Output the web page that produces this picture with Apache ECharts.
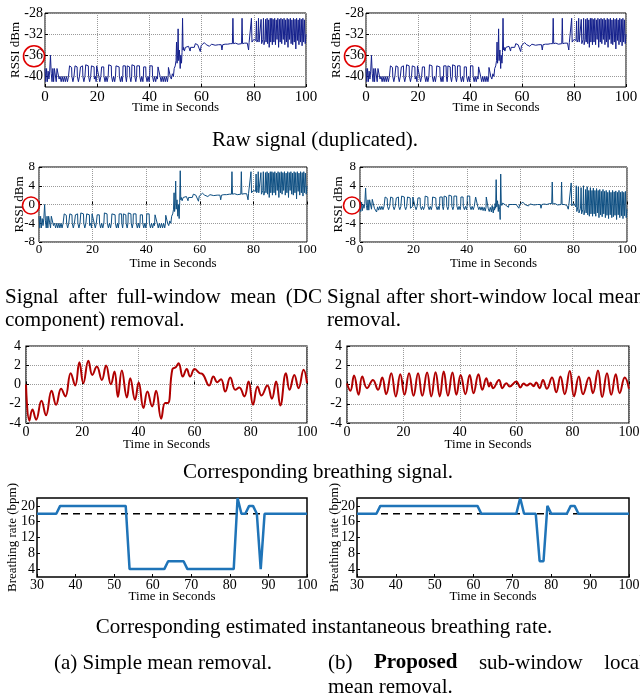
<!DOCTYPE html>
<html>
<head>
<meta charset="utf-8">
<script src="https://cdn.jsdelivr.net/npm/echarts@6/dist/echarts.min.js"></script>
<style>
  html, body { margin: 0; padding: 0; background: #fff; }
  #chart { width: 640px; height: 698px; }
</style>
</head>
<body>
<div id="chart"></div>
<script>
// ---- data ----
// raw RSSI, [time in s, dBm] (row 1, same trace in both panels)
const rawRssi = [
  [0,-38.5],[0.3,-41],[0.6,-38.5],[0.9,-41],[1.2,-39],[1.5,-40.5],[1.8,-39],[2.1,-36],[2.4,-39.5],[2.7,-41],[3,-38.5],[3.3,-41],[3.6,-38.5],[4.1,-38.5],[4.3,-41],[4.6,-38.5],[5.2,-38.5],[5.4,-40.5],[5.8,-40],[6.2,-41],[6.6,-40],[7,-41],[7.4,-40],[7.8,-41],[8.2,-40],[8.6,-41],[9,-40],
  [9.3,-40],[9.4,-38],[10.2,-38.3],[10.3,-40],[10.7,-41],[11.1,-40],
  [11.4,-40],[11.5,-38],[12.3,-38.2],[12.4,-40],[12.8,-41],[13.2,-40],
  [13.5,-40],[13.6,-38.2],[14.4,-38],[14.5,-40],[14.9,-41],[15.3,-40],
  [15.5,-40],[15.6,-37.8],[16.6,-38],[16.7,-40],[17.1,-41],[17.5,-40],
  [17.7,-40],[17.8,-38],[18.8,-38.2],[18.9,-40.5],[19.3,-40],[19.6,-41],
  [19.7,-40],[19.8,-38],[20.5,-38],[20.6,-40],[21,-41],[21.4,-40],
  [21.6,-40],[21.7,-38.2],[22.5,-38.2],[22.6,-40],[23,-41],[23.4,-40],[23.8,-41],[24.2,-40],
  [24.3,-40],[24.4,-37.8],[25.4,-38],[25.5,-40],[25.9,-41],[26.3,-40],[26.7,-41],[27,-40],
  [27.1,-40],[27.2,-38],[28.4,-38.2],[28.5,-40],[28.9,-41],[29.3,-40],[29.6,-41],[29.8,-40],
  [29.9,-38],[30.8,-38],[30.9,-40],[31.2,-41],[31.4,-40],
  [31.5,-38],[32.4,-38.2],[32.5,-40],[32.9,-41],[33.2,-40],
  [33.3,-37.8],[34.3,-38],[34.4,-40],[34.8,-41],[35.1,-40],
  [35.2,-38],[36.2,-38],[36.3,-40],[36.7,-41],[37.1,-40],[37.5,-41],[37.7,-40],
  [37.8,-38.2],[38.6,-38.2],[38.7,-40],[39.1,-41],[39.5,-40],[39.9,-41],[40.1,-40],
  [40.2,-38],[41.1,-38],[41.2,-40],[41.6,-41],[42,-40],[42.4,-41],[42.8,-40],[43.1,-40.5],
  [43.3,-38.2],[44,-38.2],[44.1,-40],[44.5,-41],[44.9,-40],[45.3,-41],[45.7,-40],[46.1,-41],[46.5,-40],[46.9,-41],[47.2,-40],
  [47.3,-38.3],[47.9,-38.3],[48,-40],[48.4,-40.5],[48.8,-39.5],[49.2,-40],[49.5,-38.5],[49.9,-38],[50.2,-37],[50.4,-33.5],[50.6,-37.5],[50.8,-36],[51,-31],[51.2,-37],[51.5,-35],[51.8,-38.5],[52,-36],[52.3,-37.5],[52.5,-35.5],[52.7,-29],[52.9,-35],[53.1,-34.5],[53.4,-35.2],[53.8,-34.5],
  [54.5,-34.5],[55,-34.3],[55.6,-35.2],[55.8,-34.5],[56.5,-34.4],[57.2,-34.5],[57.6,-33.8],[58.5,-34],[59.2,-34.2],[59.5,-35.3],[59.8,-34.2],[60.5,-34],[61,-33.6],[61.8,-34],[62.5,-33.8],[63,-34.3],[63.8,-33.9],[64.5,-34],[65.2,-34.1],[65.8,-33.8],[66.5,-34],[67.5,-34],[67.8,-35],[68.1,-34],[69,-33.9],[70,-33.9],[71,-33.8],[71.8,-33.8],
  [72,-29],[72.2,-33.8],[73,-33.7],[74,-33.9],[75.3,-33.8],[75.5,-29],[75.7,-33.8],[76.5,-33.7],[77.5,-33.7],[78,-35],[78.2,-33.6],[78.9,-33.5],[79.1,-29],[79.3,-33.5],[79.8,-33.3],[80,-33],
  [80.8,-33.2],[81,-29.5],[81.2,-33.5],[81.6,-33],[81.8,-29],[82,-33.5],[82.6,-33.2],[82.8,-29.2],[83,-33.8],[83.5,-33],[83.7,-29],[83.9,-34],[84.3,-33],[84.5,-29.2],[84.7,-33.5],[85.1,-29],[85.3,-33.8],[85.7,-29.3],[85.9,-34.5],[86.3,-29],[86.5,-33.5],[86.9,-29],[87.1,-34],
  [87.4,-29.2],[87.7,-33.5],[88,-29],[88.3,-34],[88.6,-29.3],[88.9,-33],[89.2,-29],[89.5,-34.5],[89.8,-29.2],[90.1,-33.5],[90.4,-29],[90.7,-33.8],[91,-29.2],[91.3,-33],[91.6,-29],[91.9,-34],[92.2,-29.3],[92.5,-33.5],[92.8,-29],[93.1,-34.5],[93.4,-29.2],[93.7,-33],[94,-29],[94.3,-33.8],[94.6,-29.3],[94.9,-34],[95.2,-29],[95.5,-33.5],[95.8,-29.2],[96.1,-34.8],[96.4,-29],[96.7,-33.2],[97,-29.3],[97.3,-34],[97.6,-29],[97.9,-33.5],[98.2,-29.2],[98.5,-34.2],[98.8,-29],[99.1,-33.5],[99.4,-29.3],[99.7,-33.8],[100,-32]
];

// after full-window mean (DC) removal (row 2 left)
const dcRemovedRssi = [
  [0,-2.5],[0.3,-5],[0.6,-2.5],[0.9,-5],[1.2,-3],[1.5,-4.5],[1.8,-3],[2.1,0],[2.4,-3.5],[2.7,-5],[3,-2.5],[3.3,-5],[3.6,-2.5],[4.1,-2.5],[4.3,-5],[4.6,-2.5],[5.2,-2.5],[5.4,-4.5],[5.8,-4],[6.2,-5],[6.6,-4],[7,-5],[7.4,-4],[7.8,-5],[8.2,-4],[8.6,-5],[9,-4],
  [9.3,-4],[9.4,-2],[10.2,-2.3],[10.3,-4],[10.7,-5],[11.1,-4],
  [11.4,-4],[11.5,-2],[12.3,-2.2],[12.4,-4],[12.8,-5],[13.2,-4],
  [13.5,-4],[13.6,-2.2],[14.4,-2],[14.5,-4],[14.9,-5],[15.3,-4],
  [15.5,-4],[15.6,-1.8],[16.6,-2],[16.7,-4],[17.1,-5],[17.5,-4],
  [17.7,-4],[17.8,-2],[18.8,-2.2],[18.9,-4.5],[19.3,-4],[19.6,-5],
  [19.7,-4],[19.8,-2],[20.5,-2],[20.6,-4],[21,-5],[21.4,-4],
  [21.6,-4],[21.7,-2.2],[22.5,-2.2],[22.6,-4],[23,-5],[23.4,-4],[23.8,-5],[24.2,-4],
  [24.3,-4],[24.4,-1.8],[25.4,-2],[25.5,-4],[25.9,-5],[26.3,-4],[26.7,-5],[27,-4],
  [27.1,-4],[27.2,-2],[28.4,-2.2],[28.5,-4],[28.9,-5],[29.3,-4],[29.6,-5],[29.8,-4],
  [29.9,-2],[30.8,-2],[30.9,-4],[31.2,-5],[31.4,-4],
  [31.5,-2],[32.4,-2.2],[32.5,-4],[32.9,-5],[33.2,-4],
  [33.3,-1.8],[34.3,-2],[34.4,-4],[34.8,-5],[35.1,-4],
  [35.2,-2],[36.2,-2],[36.3,-4],[36.7,-5],[37.1,-4],[37.5,-5],[37.7,-4],
  [37.8,-2.2],[38.6,-2.2],[38.7,-4],[39.1,-5],[39.5,-4],[39.9,-5],[40.1,-4],
  [40.2,-2],[41.1,-2],[41.2,-4],[41.6,-5],[42,-4],[42.4,-5],[42.8,-4],[43.1,-4.5],
  [43.3,-2.2],[44,-2.2],[44.1,-4],[44.5,-5],[44.9,-4],[45.3,-5],[45.7,-4],[46.1,-5],[46.5,-4],[46.9,-5],[47.2,-4],
  [47.3,-2.3],[47.9,-2.3],[48,-4],[48.4,-4.5],[48.8,-3.5],[49.2,-4],[49.5,-2.5],[49.9,-2],[50.2,-1],[50.4,2.5],[50.6,-1.5],[50.8,0],[51,5],[51.2,-1],[51.5,1],[51.8,-2.5],[52,0],[52.3,-3],[52.5,0.5],[52.7,7.2],[52.9,1],[53.1,1.5],[53.4,0.8],[53.8,1.5],
  [54.5,1.5],[55,1.7],[55.6,0.8],[55.8,1.5],[56.5,1.6],[57.2,1.5],[57.6,2.2],[58.5,2],[59.2,1.8],[59.5,0.7],[59.8,1.8],[60.5,2],[61,2.4],[61.8,2],[62.5,2.2],[63,1.7],[63.8,2.1],[64.5,2],[65.2,1.9],[65.8,2.2],[66.5,2],[67.5,2],[67.8,1],[68.1,2],[69,2.1],[70,2.1],[71,2.2],[71.8,2.2],
  [72,7],[72.2,2.2],[73,2.3],[74,2.1],[75.3,2.2],[75.5,7],[75.7,2.2],[76.5,2.3],[77.5,2.3],[78,1],[78.2,2.4],[78.9,2.5],[79.1,7],[79.3,2.5],[79.8,2.7],[80,3],
  [80.8,2.8],[81,6.5],[81.2,2.5],[81.6,3],[81.8,7],[82,2.5],[82.6,2.8],[82.8,6.8],[83,2.2],[83.5,3],[83.7,7],[83.9,2],[84.3,3],[84.5,6.8],[84.7,2.5],[85.1,7],[85.3,2.2],[85.7,6.7],[85.9,1.5],[86.3,7],[86.5,2.5],[86.9,7],[87.1,2],
  [87.4,6.8],[87.7,2.5],[88,7],[88.3,2],[88.6,6.7],[88.9,3],[89.2,7],[89.5,1.5],[89.8,6.8],[90.1,2.5],[90.4,7],[90.7,2.2],[91,6.8],[91.3,3],[91.6,7],[91.9,2],[92.2,6.7],[92.5,2.5],[92.8,7],[93.1,1.5],[93.4,6.8],[93.7,3],[94,7],[94.3,2.2],[94.6,6.7],[94.9,2],[95.2,7],[95.5,2.5],[95.8,6.8],[96.1,1.2],[96.4,7],[96.7,2.8],[97,6.7],[97.3,2],[97.6,7],[97.9,2.5],[98.2,6.8],[98.5,1.8],[98.8,7],[99.1,2.5],[99.4,6.7],[99.7,2.2],[100,4]
];

// after short-window local mean removal (row 2 right)
const localRemovedRssi = [
  [0,0.5],[0.3,-1.5],[0.6,0.5],[0.9,-1.3],[1.2,0],[1.5,-0.8],[1.8,0.2],[2.1,3.5],[2.4,-0.2],[2.7,-1.2],[3,1],[3.3,-1.2],[3.6,1],[4.1,1],[4.3,-1],[4.6,1.1],[5.2,1.1],[5.4,-0.8],[5.8,-0.5],[6.2,-1.6],[6.6,-0.5],[7,-1.2],[7.4,-0.4],[7.8,-1.1],[8.2,-0.4],[8.6,-1.1],[9,-0.4],
  [9.3,-0.4],[9.4,1.6],[10.2,1.3],[10.3,-0.4],[10.7,-1.1],[11.1,-0.4],
  [11.4,-0.4],[11.5,1.6],[12.3,1.4],[12.4,-0.4],[12.8,-1.1],[13.2,-0.4],
  [13.5,-0.4],[13.6,1.4],[14.4,1.6],[14.5,-0.4],[14.9,-1.1],[15.3,-0.4],
  [15.5,-0.4],[15.6,1.8],[16.6,1.6],[16.7,-0.4],[17.1,-1.1],[17.5,-0.4],
  [17.7,-0.4],[17.8,1.6],[18.8,1.4],[18.9,-0.8],[19.3,-0.4],[19.6,-1.1],
  [19.7,-0.4],[19.8,1.6],[20.5,1.6],[20.6,-0.4],[21,-1.1],[21.4,-0.4],
  [21.6,-0.4],[21.7,1.4],[22.5,1.4],[22.6,-0.4],[23,-1.1],[23.4,-0.4],[23.8,-1.1],[24.2,-0.4],
  [24.3,-0.4],[24.4,1.8],[25.4,1.6],[25.5,-0.4],[25.9,-1.1],[26.3,-0.4],[26.7,-1.1],[27,-0.4],
  [27.1,-0.4],[27.2,1.6],[28.4,1.4],[28.5,-0.4],[28.9,-1.1],[29.3,-0.4],[29.6,-1.1],[29.8,-0.4],
  [29.9,1.6],[30.8,1.6],[30.9,-0.4],[31.2,-1.1],[31.4,-0.4],
  [31.5,1.8],[32.4,1.6],[32.5,-0.4],[32.9,-1.1],[33.2,-0.4],
  [33.3,2],[34.3,1.8],[34.4,-0.4],[34.8,-1.1],[35.1,-0.4],
  [35.2,1.8],[36.2,1.8],[36.3,-0.4],[36.7,-1.1],[37.1,-0.4],[37.5,-1.1],[37.7,-0.4],
  [37.8,1.6],[38.6,1.6],[38.7,-0.4],[39.1,-1.1],[39.5,-0.4],[39.9,-1.1],[40.1,-0.4],
  [40.2,1.8],[41.1,1.8],[41.2,-0.4],[41.6,-1.1],[42,-0.4],[42.4,-1.1],[42.8,-0.4],[43.1,-0.8],
  [43.3,1.6],[44,1.6],[44.1,-0.4],[44.5,-1.1],[44.9,-0.5],[45.3,-1.2],[45.7,-0.5],[46.1,-1.3],[46.5,-0.6],[46.9,-1.4],[47.2,-0.6],
  [47.3,1.6],[47.9,1.6],[48,-0.8],[48.4,-1.5],[48.8,-0.6],[49.2,-1.6],[49.5,-0.2],[49.9,-1.8],[50.2,-0.5],[50.4,-1.2],[50.6,0.2],[50.8,-0.8],[51,5.3],[51.2,-0.5],[51.5,0.8],[51.8,-1.5],[52,0],[52.3,-1],[52.5,-3.2],[52.7,6.5],[52.9,0.3],[53.1,-0.2],[53.4,0.3],[53.8,-0.1],
  [54.5,-0.1],[55,0.1],[55.6,-0.6],[55.8,0],[56.5,0.2],[57.2,0],[57.6,0.4],[58.5,0],[59.2,-0.1],[59.5,-0.8],[59.8,0],[60.5,0.1],[61,0.5],[61.8,0],[62.5,0.2],[63,-0.3],[63.8,0.1],[64.5,0],[65.2,-0.1],[65.8,0.2],[66.5,0],[67.5,0],[67.8,-0.8],[68.1,0],[69,0.1],[70,0],[71,0.2],[71.8,0.2],
  [72,4.8],[72.2,0.1],[73,0.2],[74,-0.1],[75.3,0],[75.5,4.8],[75.7,0],[76.5,0],[77.5,-0.2],[78,-1],[78.2,-0.2],[78.9,-0.3],[79.1,4.6],[79.3,-0.3],[79.8,-0.5],[80,0.3],
  [80.8,-0.5],[81,4],[81.2,-1.5],[81.6,-0.5],[81.8,3.8],[82,-1.8],[82.6,-0.8],[82.8,3.6],[83,-2],[83.5,-1],[83.7,4],[83.9,-2.2],[84.3,-1],[84.5,3.2],[84.7,-1.8],[85.1,3.8],[85.3,-2.2],[85.7,3],[85.9,-2.5],[86.3,3.6],[86.5,-2],[86.9,3],[87.1,-2.5],
  [87.4,3.5],[87.7,-2],[88,3],[88.3,-2.5],[88.6,3.4],[88.9,-1.8],[89.2,3],[89.5,-2.8],[89.8,3.2],[90.1,-2.2],[90.4,2.8],[90.7,-2.6],[91,3.2],[91.3,-2],[91.6,2.8],[91.9,-2.8],[92.2,3],[92.5,-2.3],[92.8,2.6],[93.1,-3],[93.4,3],[93.7,-2.2],[94,2.6],[94.3,-2.8],[94.6,3],[94.9,-2.6],[95.2,2.7],[95.5,-2.3],[95.8,2.9],[96.1,-3.2],[96.4,2.6],[96.7,-2.2],[97,3],[97.3,-2.8],[97.6,2.6],[97.9,-2.4],[98.2,2.8],[98.5,-3],[98.8,2.6],[99.1,-2.4],[99.4,2.8],[99.7,-2.8],[100,-1]
];

// breathing signal, peaks and troughs (row 3)
const breathingSimple = [
  [0,0],[1.2,-3.76],[2.3,-2.6],[3.6,-3.65],[5.5,-1.7],[7.1,-3.2],[9.1,-0.65],[10.7,-2.1],[12.5,-0.45],[14,-1.24],[15.9,1.17],[17.5,-0.1],[19,2.3],[20.4,0.14],[22.2,2.48],[23.6,1],[25.2,1.86],[27,0.48],[28.5,1.97],[30.2,0.03],[31.5,1.34],[32.7,-1.3],[34.1,1.45],[35.9,-1.34],[37.1,0.65],[38.8,-1.59],[40.1,0.2],[41.8,-2.45],[43.2,-0.72],[44.9,-2.28],[46.3,-0.65],[48.1,-3.55],[49.5,-1.93],[50.5,-1.93],[52.1,1.6],[53.3,1.8],[54.3,2.2],[55.8,0.83],[57.2,1.62],[58.4,0.83],[60,1.6],[61.8,1.17],[62.8,1.1],[65.2,-0.1],[66.7,0.83],[68.1,0.24],[69.4,0.55],[70.9,-0.72],[72.7,0.72],[74.5,-0.55],[75.9,-0.31],[77.7,-1.24],[79.2,0.31],[80.8,-2.1],[82.4,-0.2],[83.8,-1.14],[85.9,-0.1],[87.5,-1.48],[89,0.31],[90.5,-2.17],[92.5,1.17],[93.8,-0.55],[95.5,1],[97,-0.38],[98.8,1.52],[100,0.14]
];
const breathingProposed = [
  [0,0.1],[1.2,-0.65],[2.5,0.93],[4.1,-1.07],[5.4,0.83],[7.1,-0.38],[9.2,0.48],[11,-0.55],[12.5,0.72],[13.9,-1],[15.7,1.17],[17.3,-1.24],[18.9,1.07],[20.4,-1.07],[22,1.17],[23.6,-1.17],[25.2,1.17],[26.7,-1.17],[28.4,1.24],[29.9,-1.24],[31.4,1.28],[32.9,-1.24],[34.3,1.34],[35.8,-1.17],[37.4,1.24],[38.8,-1.07],[40.3,1],[42,-1],[43.5,1],[44.9,-0.9],[46.6,1.07],[48,-0.55],[49.4,0.65],[50.4,-0.2],[50.9,0.2],[51.8,-0.38],[53.9,0.48],[55.1,-0.38],[56.5,0.14],[57.7,-0.2],[60,0.31],[61.5,-0.31],[62.6,0.1],[63.8,-0.1],[65,0.1],[66.2,-0.17],[67.1,0.2],[68.3,-0.38],[69.5,0.48],[70.9,-0.45],[72.7,0.72],[74.2,-0.8],[75.7,0.83],[77.2,-1],[79,1.41],[80.5,-1.24],[82.2,0.83],[83.7,-1],[85.8,0.72],[87.2,-0.9],[89,1.45],[90.5,-1.31],[92.2,1.17],[93.7,-1.07],[95.3,1.07],[96.7,-0.9],[98.5,0.72],[100,-0.45]
];

// estimated breathing rate in bpm (row 4) and the 18 bpm ground truth
const rateSimple = [
  [30,18],[35,18],[36,20],[53,20],[54,4],[63,4],[64,6],[68,6],[69,4],[81,4],[82,22],[83,18],[84,18],[85,20],[86,20],[87,18],[88,4],[89,18],[100,18]
];
const rateProposed = [
  [30,18],[35,18],[36,20],[61,20],[62,18],[71,18],[72,22],[73,18],[76,18],[77,6],[78,6],[79,20],[80,18],[84,18],[85,20],[86,20],[87,18],[100,18]
];
const rateTruth = [[30,18],[100,18]];

const rawTicks = [-40, -36, -32, -28];
const rateTicks = [4, 8, 12, 16, 20];

// ---- layout ----
const serif = '"Liberation Serif", "Times New Roman", serif';
const capFont = '21px "Liberation Serif"';
const capBold = 'bold 21px "Liberation Serif"';

// plot boxes, measured on the figure
const panels = [
  { left: 45, top: 13, width: 261, height: 74 },
  { left: 366, top: 13, width: 260, height: 74 },
  { left: 39, top: 167, width: 268, height: 75 },
  { left: 360, top: 167, width: 267, height: 75 },
  { left: 26, top: 346, width: 281, height: 77 },
  { left: 347, top: 346, width: 282, height: 77 },
  { left: 37, top: 498, width: 270, height: 79 },
  { left: 357, top: 498, width: 272, height: 79 }
];

function makeGrid(p, borderWidth) {
  return Object.assign({
    show: true, borderColor: '#000', borderWidth: borderWidth,
    backgroundColor: 'transparent', containLabel: false, outerBoundsMode: 'none'
  }, p);
}

function timeAxis(gridIndex, min, max, interval, fontSize, labelGap, nameGap, grid) {
  return {
    type: 'value', gridIndex, min, max, interval,
    name: 'Time in Seconds', nameLocation: 'middle', nameGap, nameMoveOverlap: false,
    nameTextStyle: { fontFamily: serif, fontSize: 13, color: '#000' },
    axisLine: { show: false },
    axisTick: { show: true, inside: true, length: 3, lineStyle: { color: '#000' } },
    axisLabel: { fontFamily: serif, fontSize, color: '#000', margin: labelGap },
    splitLine: { show: grid, lineStyle: { color: '#9a9a9a', type: 'dotted', width: 1 } }
  };
}

function valueAxis(gridIndex, min, max, opts) {
  const ax = {
    type: 'value', gridIndex, min, max,
    name: opts.name || '', nameLocation: 'middle', nameGap: opts.nameGap || 0, nameMoveOverlap: false,
    nameTextStyle: { fontFamily: serif, fontSize: 13, color: '#000' },
    axisLine: { show: false },
    axisTick: { show: true, inside: true, length: 3, lineStyle: { color: '#000' } },
    axisLabel: { fontFamily: serif, fontSize: opts.fontSize, color: '#000', margin: opts.labelGap },
    splitLine: { show: opts.grid, lineStyle: { color: '#9a9a9a', type: 'dotted', width: 1 } }
  };
  if (opts.interval) ax.interval = opts.interval;
  if (opts.ticks) {
    ax.axisTick.customValues = opts.ticks;
    ax.axisLabel.customValues = opts.ticks;
  }
  return ax;
}

function lineSeries(i, data, color, width, smooth) {
  return {
    type: 'line', xAxisIndex: i, yAxisIndex: i, data,
    symbol: 'none', smooth: smooth || false,
    lineStyle: { color, width }, itemStyle: { color },
    silent: true
  };
}

const option = {
  animation: false,
  backgroundColor: '#fff',
  textStyle: { fontFamily: serif },
  grid: panels.map((p, i) => makeGrid(p, i >= 6 ? 1.5 : (i >= 4 ? 1.2 : 1))),
  xAxis: [
    timeAxis(0, 0, 100, 20, 15, 3, 14, true),
    timeAxis(1, 0, 100, 20, 15, 3, 14, true),
    timeAxis(2, 0, 100, 20, 13, 1, 15, true),
    timeAxis(3, 0, 100, 20, 13, 1, 15, true),
    timeAxis(4, 0, 100, 20, 14, 2, 15, true),
    timeAxis(5, 0, 100, 20, 14, 2, 15, true),
    timeAxis(6, 30, 100, 10, 14, 1, 13, false),
    timeAxis(7, 30, 100, 10, 14, 1, 13, false)
  ],
  yAxis: [
    valueAxis(0, -42, -28, { ticks: rawTicks, fontSize: 14, labelGap: 2, name: 'RSSI dBm', nameGap: 23, grid: true }),
    valueAxis(1, -42, -28, { ticks: rawTicks, fontSize: 14, labelGap: 2, name: 'RSSI dBm', nameGap: 23, grid: true }),
    valueAxis(2, -8, 8, { interval: 4, fontSize: 13, labelGap: 4, name: 'RSSI dBm', nameGap: 13, grid: true }),
    valueAxis(3, -8, 8, { interval: 4, fontSize: 13, labelGap: 4, name: 'RSSI dBm', nameGap: 15, grid: true }),
    valueAxis(4, -4, 4, { interval: 2, fontSize: 14, labelGap: 5, grid: true }),
    valueAxis(5, -4, 4, { interval: 2, fontSize: 14, labelGap: 5, grid: true }),
    valueAxis(6, 2, 22, { ticks: rateTicks, fontSize: 14, labelGap: 2, name: 'Breathing rate (bpm)', nameGap: 18, grid: false }),
    valueAxis(7, 2, 22, { ticks: rateTicks, fontSize: 14, labelGap: 2, name: 'Breathing rate (bpm)', nameGap: 16, grid: false })
  ],
  series: [
    lineSeries(0, rawRssi, '#14208c', 1),
    lineSeries(1, rawRssi, '#14208c', 1),
    lineSeries(2, dcRemovedRssi, '#0e4f82', 1),
    lineSeries(3, localRemovedRssi, '#0e4f82', 1),
    lineSeries(4, breathingSimple, '#b00000', 2, 0.45),
    lineSeries(5, breathingProposed, '#b00000', 2, 0.45),
    Object.assign(lineSeries(6, rateTruth, '#000', 1.5), { lineStyle: { color: '#000', width: 1.5, type: [7, 5] } }),
    lineSeries(6, rateSimple, '#1f74b8', 2.5),
    Object.assign(lineSeries(7, rateTruth, '#000', 1.5), { lineStyle: { color: '#000', width: 1.5, type: [7, 5] } }),
    lineSeries(7, rateProposed, '#1f74b8', 2.5)
  ]
};

const chart = echarts.init(document.getElementById('chart'), null, { renderer: 'canvas' });
chart.setOption(option);

// ---- captions (justified lines are spread word by word) ----
const ctx = document.createElement('canvas').getContext('2d');
function textEl(text, x, y, font, align) {
  return {
    type: 'text', x, y, silent: true,
    style: { text, font, fill: '#000', align: align || 'left', verticalAlign: 'middle' }
  };
}
function justified(words, x0, x1, y) {
  const widths = words.map(w => { ctx.font = w[1]; return ctx.measureText(w[0]).width; });
  const total = widths.reduce((a, b) => a + b, 0);
  const gap = (x1 - x0 - total) / (words.length - 1);
  let x = x0;
  return words.map((w, k) => {
    const el = textEl(w[0], x, y, w[1]);
    x += widths[k] + gap;
    return el;
  });
}

const graphics = [
  textEl('Raw signal (duplicated).', 315, 140, capFont, 'center'),
  ...justified([['Signal', capFont], ['after', capFont], ['full-window', capFont], ['mean', capFont], ['(DC', capFont]], 5, 322, 297),
  textEl('component) removal.', 5, 320, capFont),
  ...justified([['Signal', capFont], ['after', capFont], ['short-window', capFont], ['local', capFont], ['mean', capFont]], 327, 644, 297),
  textEl('removal.', 327, 320, capFont),
  textEl('Corresponding breathing signal.', 318, 472, capFont, 'center'),
  textEl('Corresponding estimated instantaneous breathing rate.', 324, 627, capFont, 'center'),
  textEl('(a) Simple mean removal.', 163, 663, capFont, 'center'),
  ...justified([['(b)', capFont], ['Proposed', capBold], ['sub-window', capFont], ['local', capFont]], 328, 645, 663),
  textEl('mean removal.', 328, 687, capFont)
];

// red circles around the -36 and 0 tick labels
const circled = [
  { axis: 0, value: -36, dx: -11, r: 10.5 },
  { axis: 1, value: -36, dx: -11, r: 10.5 },
  { axis: 2, value: 0, dx: -8, r: 8.5 },
  { axis: 3, value: 0, dx: -8, r: 8.5 }
];
circled.forEach(c => {
  const y = chart.convertToPixel({ yAxisIndex: c.axis }, c.value);
  graphics.push({
    type: 'circle', silent: true, z: 10,
    shape: { cx: panels[c.axis].left + c.dx, cy: y + 1, r: c.r },
    style: { fill: 'none', stroke: '#e00000', lineWidth: 1.6 }
  });
});

chart.setOption({ graphic: graphics });
</script>
</body>
</html>
